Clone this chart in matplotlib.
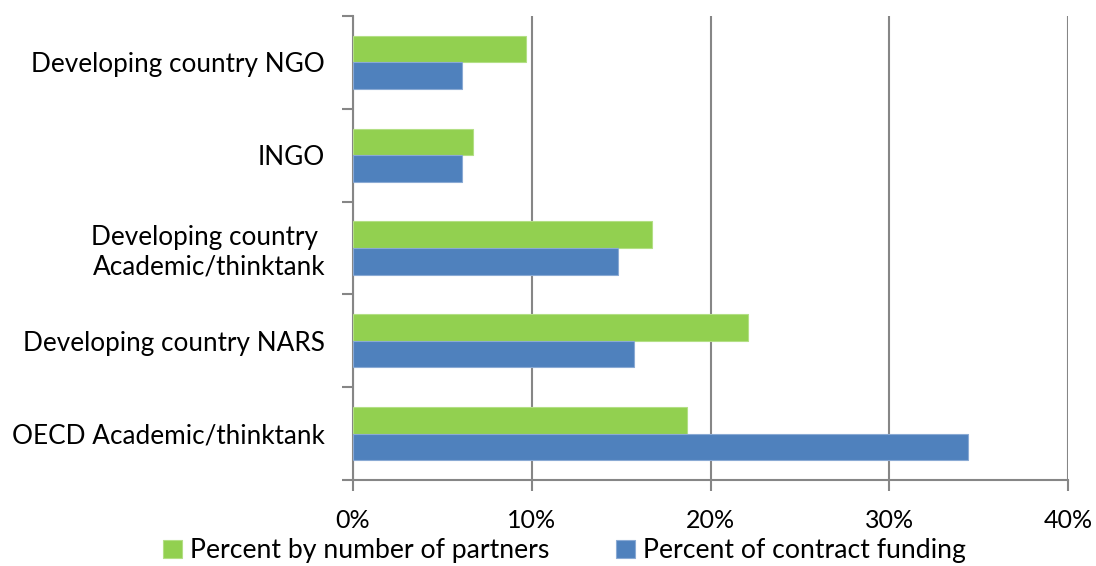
import numpy as np
import matplotlib
matplotlib.use('Agg')
import matplotlib.pyplot as plt
from matplotlib.ticker import FuncFormatter

# partner types, listed top to bottom
categories = ['Developing country NGO', 'INGO', 'Developing country \nAcademic/thinktank',
              'Developing country NARS', 'OECD Academic/thinktank']
partners_pct = [9.7, 6.7, 16.7, 22.1, 18.7]
funding_pct = [6.1, 6.1, 14.8, 15.7, 34.4]
xticks = [0, 10, 20, 30, 40]

green = '#92D050'
blue = '#4F81BD'
grid_col = '#868686'

plt.rcParams['font.family'] = ['Lato', 'DejaVu Sans']

fig = plt.figure(figsize=(10.96, 5.66), dpi=100)
ax = fig.add_axes([353/1096, 1 - 480/566, 715/1096, 464/566])

y = np.arange(len(categories))
h = 0.287
ax.barh(y - h/2, partners_pct, height=h, color=green, edgecolor='#B3DF85', linewidth=0.8,
        label='Percent by number of partners', zorder=3)
ax.barh(y + h/2, funding_pct, height=h, color=blue, edgecolor='#8AAAD4', linewidth=0.8,
        label='Percent of contract funding', zorder=3)

ax.set_xlim(0, 40)
ax.set_ylim(len(categories) - 0.5, -0.5)
ax.set_xticks(xticks)
ax.xaxis.set_major_formatter(FuncFormatter(lambda v, p: f'{v:.0f}%'))
ax.grid(axis='x', color=grid_col, linewidth=1.5, zorder=0)

# category labels centred, tick marks on the boundaries
ax.set_yticks(y)
ax.set_yticklabels(categories, fontsize=18.8, ha='right', multialignment='right')
ax.tick_params(axis='y', length=0, pad=20)
ax.set_yticks(np.arange(len(categories) + 1) - 0.5, minor=True)
ax.tick_params(axis='y', which='minor', length=8, width=1.5, color=grid_col)
ax.tick_params(axis='x', length=8, width=1.5, color=grid_col, labelsize=18, pad=13)

for s in ['top', 'right']:
    ax.spines[s].set_visible(False)
for s in ['left', 'bottom']:
    ax.spines[s].set_color(grid_col)
    ax.spines[s].set_linewidth(1.5)

fig.legend(loc='center', bbox_to_anchor=(0.515, 0.027), ncol=2, frameon=False, fontsize=19.2,
           handlelength=0.7, handleheight=0.7, handletextpad=0.3, columnspacing=2.5)

fig.savefig('out.png', dpi=100)
